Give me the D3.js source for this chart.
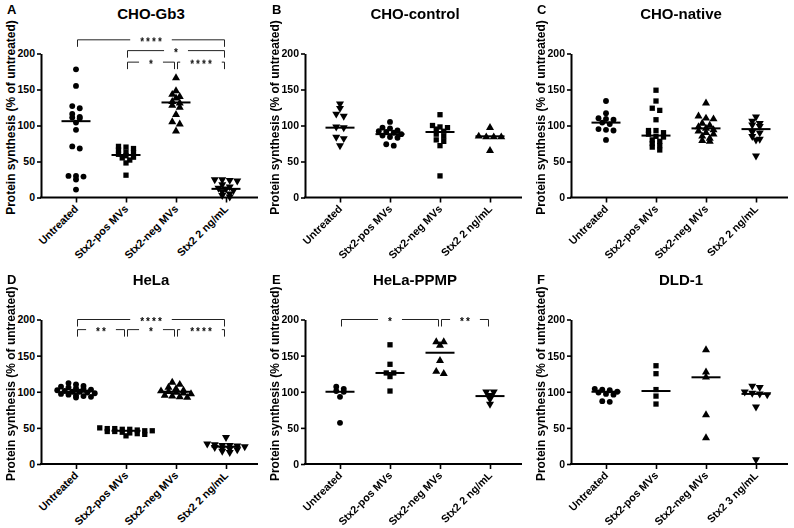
<!DOCTYPE html>
<html><head><meta charset="utf-8">
<script src="https://cdn.jsdelivr.net/npm/d3@7"></script>
<style>
body{margin:0;background:#fff}
text{font-family:"Liberation Sans",Arial,sans-serif;font-weight:bold;fill:#000}
.sig{opacity:0.99;will-change:transform}
</style>
</head><body>
<svg id="chart" width="794" height="528"></svg>
<script>
// ---------- data ----------
const categories = ["Untreated", "Stx2-pos MVs", "Stx2-neg MVs", "Stx2 2 ng/mL"];
const categoriesDLD = ["Untreated", "Stx2-pos MVs", "Stx2-neg MVs", "Stx2 3 ng/mL"];
const yTicks = [0, 50, 100, 150, 200];
const panelTitles = ["CHO-Gb3", "CHO-control", "CHO-native", "HeLa", "HeLa-PPMP", "DLD-1"];
const panelLetters = ["A", "B", "C", "D", "E", "F"];

// A: CHO-Gb3
const gb3Untreated = [178, 155, 127, 124, 116, 112, 111, 110, 104, 94, 71, 68, 30, 29, 30, 25, 11];
const gb3Pos = [71, 70, 68, 66, 63, 62, 60, 58, 56, 55, 52, 48, 31];
const gb3Neg = [166, 148, 143, 140, 138, 133, 131, 128, 125, 115, 105, 102, 92];
const gb3Stx = [25, 25, 24, 23, 18, 15, 13, 12, 10, 8, 5, 3, 1];
const gb3Center = [106, 59, 132, 12];
const gb3Markers = ["circle", "square", "triangle", "triangleDown"];
const gb3Sig = [
  {from: 0, to: 3, level: 219, label: "****"},
  {from: 1, to: 3, level: 204, label: "*"},
  {from: 1, to: 2, level: 188, label: "*"},
  {from: 2, to: 3, level: 188, label: "****"}
];

// B: CHO-control
const ctrlUntreated = [130, 124, 116, 113, 98, 97, 84, 82, 72];
const ctrlPos = [105, 97, 96, 93, 92, 91, 90, 88, 86, 84, 83, 74, 72];
const ctrlNeg = [115, 100, 98, 97, 95, 92, 88, 85, 80, 78, 72, 30];
const ctrlStx = [97, 85, 84, 84, 84, 65];
const ctrlCenter = [97, 88, 91, 85];
const ctrlMarkers = ["triangleDown", "circle", "square", "triangle"];

// C: CHO-native
const natUntreated = [134, 117, 110, 109, 108, 104, 102, 95, 94, 93, 80];
const natPos = [149, 134, 124, 121, 108, 93, 93, 90, 88, 85, 84, 80, 78, 75, 72, 70, 66];
const natNeg = [131, 113, 110, 109, 103, 100, 98, 96, 94, 92, 90, 88, 85, 82, 79, 78];
const natStx = [112, 106, 103, 101, 99, 91, 90, 85, 81, 80, 58];
const natCenter = [104, 86, 96, 95];
const natMarkers = ["circle", "square", "triangle", "triangleDown"];

// D: HeLa
const helaUntreated = [112, 110, 108, 107, 106, 105, 104, 103, 102, 101, 100, 100, 99, 98, 97, 96, 95, 94, 93, 92];
const helaPos = [50, 49, 49, 48, 48, 47, 46, 46, 45, 45, 44, 43, 42, 41, 39];
const helaNeg = [113, 110, 106, 104, 102, 101, 100, 99, 98, 97, 95, 94, 93, 92];
const helaStx = [37, 28, 27, 26, 26, 25, 24, 23, 22, 21, 20, 18, 16];
const helaCenter = [100, 46, 100, 24];
const helaMarkers = ["circle", "square", "triangle", "triangleDown"];
const helaSig = [
  {from: 0, to: 3, level: 200, label: "****"},
  {from: 0, to: 1, level: 186, label: "**"},
  {from: 1, to: 2, level: 186, label: "*"},
  {from: 2, to: 3, level: 186, label: "****"}
];

// E: HeLa-PPMP
const ppmpUntreated = [107, 104, 101, 100, 93, 57];
const ppmpPos = [165, 138, 126, 126, 121, 101];
const ppmpNeg = [169, 169, 164, 143, 128, 125];
const ppmpStx = [100, 100, 95, 90, 83];
const ppmpCenter = [100, 126, 154, 94];
const ppmpMarkers = ["circle", "square", "triangle", "triangleDown"];
const ppmpSig = [
  {from: 0, to: 2, level: 200, label: "*"},
  {from: 2, to: 3, level: 200, label: "**"}
];

// F: DLD-1
const dldUntreated = [104, 103, 102, 100, 99, 97, 96, 87, 86];
const dldPos = [136, 125, 103, 94, 83];
const dldNeg = [158, 127, 120, 68, 36];
const dldStx = [108, 106, 100, 98, 97, 96, 79, 6];
const dldCenter = [100, 101, 120, 97];
const dldMarkers = ["circle", "square", "triangle", "triangleDown"];

const panels = [
  {groups: [gb3Untreated, gb3Pos, gb3Neg, gb3Stx], center: gb3Center, markers: gb3Markers, sig: gb3Sig, cats: categories},
  {groups: [ctrlUntreated, ctrlPos, ctrlNeg, ctrlStx], center: ctrlCenter, markers: ctrlMarkers, sig: [], cats: categories},
  {groups: [natUntreated, natPos, natNeg, natStx], center: natCenter, markers: natMarkers, sig: [], cats: categories},
  {groups: [helaUntreated, helaPos, helaNeg, helaStx], center: helaCenter, markers: helaMarkers, sig: helaSig, cats: categories},
  {groups: [ppmpUntreated, ppmpPos, ppmpNeg, ppmpStx], center: ppmpCenter, markers: ppmpMarkers, sig: ppmpSig, cats: categories},
  {groups: [dldUntreated, dldPos, dldNeg, dldStx], center: dldCenter, markers: dldMarkers, sig: [], cats: categoriesDLD}
];

// ---------- layout ----------
const colStart = [0, 265, 530];
const axisXs = [41, 305, 571];
const rowTop = [53.5, 319.5];
const rowBottom = [197.5, 464];
const titleY = [19, 285];
const letterY = [13.5, 283.5];

const svg = d3.select("#chart");

const symbolGen = {
  circle: d3.symbol(d3.symbolCircle, 27),
  square: d3.symbol(d3.symbolSquare, 28),
  triangle: d3.symbol(d3.symbolTriangle, 28),
  triangleDown: d3.symbol(d3.symbolTriangle, 28)
};

function arrange(vals, y, xc) {
  const pts = vals.map(v => ({v, py: y(v)})).sort((a, b) => a.py - b.py);
  const rows = [];
  let cur = null;
  pts.forEach(p => {
    if (!cur || p.py - cur.start > 3) { cur = {start: p.py, items: []}; rows.push(cur); }
    cur.items.push(p);
  });
  rows.forEach(r => {
    const n = r.items.length;
    r.items.forEach((p, i) => { p.px = xc + (i - (n - 1) / 2) * 7.5; });
  });
  return pts;
}

panels.forEach((p, idx) => {
  const row = Math.floor(idx / 3), col = idx % 3;
  const ax = axisXs[col];
  const y = d3.scaleLinear().domain([0, 200]).range([rowBottom[row], rowTop[row]]);
  const x = d3.scalePoint().domain(p.cats).range([ax + 35, ax + 185]);
  const g = svg.append("g");

  // letter and title
  g.append("text").attr("x", colStart[col] + 7).attr("y", letterY[row])
    .style("font-size", "13px").text(panelLetters[idx]);
  g.append("text").attr("x", ax + 110).attr("y", titleY[row]).attr("text-anchor", "middle")
    .style("font-size", "15px").text(panelTitles[idx]);

  // y axis
  const ya = g.append("g").attr("transform", `translate(${ax},0)`)
    .call(d3.axisLeft(y).tickValues(yTicks).tickSize(4).tickSizeOuter(0).tickPadding(2));
  ya.select(".domain").attr("stroke", "#000").attr("stroke-width", 2);
  ya.selectAll(".tick line").attr("stroke", "#000").attr("stroke-width", 1.6);
  ya.selectAll(".tick text").style("font-family", "'Liberation Sans',Arial,sans-serif")
    .style("font-weight", "bold").style("font-size", "10.5px").attr("fill", "#000");

  // y label
  g.append("text")
    .attr("transform", `translate(${ax - 26},${(rowTop[row] + rowBottom[row]) / 2 - 8}) rotate(-90)`)
    .attr("text-anchor", "middle").style("font-size", "12px")
    .text("Protein synthesis (% of untreated)");

  // x axis
  const xa = g.append("g").attr("transform", `translate(0,${rowBottom[row]})`)
    .call(d3.axisBottom(x).tickSize(5).tickSizeOuter(0).tickFormat(""));
  xa.select(".domain").remove();
  xa.selectAll(".tick line").attr("stroke", "#000").attr("stroke-width", 1.6);
  g.append("line").attr("x1", ax - 1).attr("x2", ax + 217)
    .attr("y1", rowBottom[row]).attr("y2", rowBottom[row])
    .attr("stroke", "#000").attr("stroke-width", 2);
  g.selectAll(".xlab").data(p.cats).enter().append("text")
    .attr("transform", d => `translate(${x(d) + 3},${rowBottom[row] + 12}) rotate(-45)`)
    .attr("text-anchor", "end").style("font-size", "10.8px").text(d => d);

  // points
  p.groups.forEach((vals, gi) => {
    const xc = x(p.cats[gi]);
    const pts = arrange(vals, y, xc);
    const mk = p.markers[gi];
    g.selectAll(null).data(pts).enter().append("path")
      .attr("d", symbolGen[mk]())
      .attr("transform", d => `translate(${d.px},${d.py})` + (mk === "triangleDown" ? " rotate(180)" : ""))
      .attr("fill", "#000");
    g.append("line").attr("x1", xc - 14.5).attr("x2", xc + 14.5)
      .attr("y1", y(p.center[gi])).attr("y2", y(p.center[gi]))
      .attr("stroke", "#000").attr("stroke-width", 2);
  });

  // significance brackets
  p.sig.forEach(s => {
    const x1 = x(p.cats[s.from]) + 1.5, x2 = x(p.cats[s.to]) - 1.5;
    const ly = y(s.level);
    const mid = (x(p.cats[s.from]) + x(p.cats[s.to])) / 2;
    const t = g.append("text").attr("class", "sig").attr("text-anchor", "middle")
      .style("font-size", "10px").style("letter-spacing", "2px").attr("fill", "#000").text(s.label);
    const w = t.node().getComputedTextLength();
    t.attr("transform", `translate(${mid + 1},${ly + 5.5}) rotate(0.01)`);
    const gl = mid - w / 2 - 9, gr = mid + w / 2 + 9;
    const path = `M${x1},${ly + 7}V${ly}H${gl}M${gr},${ly}H${x2}V${ly + 7}`;
    g.append("path").attr("d", path).attr("fill", "none").attr("stroke", "#222").attr("stroke-width", 1);
  });
});
</script>
</body></html>
